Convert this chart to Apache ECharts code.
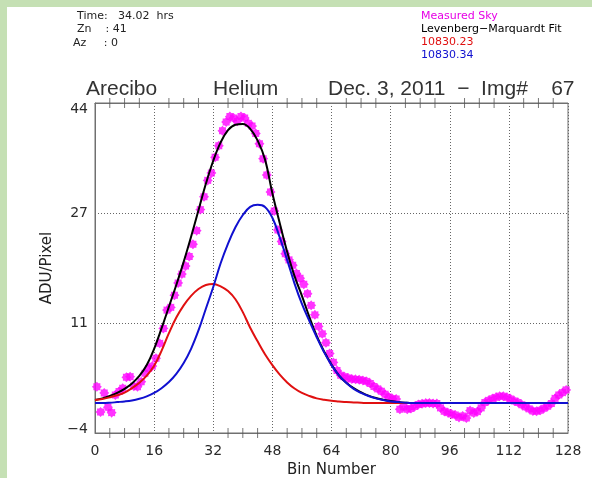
<!DOCTYPE html>
<html><head><meta charset="utf-8">
<script src="https://cdn.jsdelivr.net/npm/echarts/dist/echarts.min.js"></script>
<style>
html,body{margin:0;padding:0;width:592px;height:478px;overflow:hidden;background:#c5e0b4;}
#panel{position:absolute;left:7px;top:7px;width:585px;height:471px;background:#fff;}
#chart{position:absolute;left:0;top:0;width:592px;height:478px;}
</style></head><body>
<div id="panel"></div><div id="chart"></div>
<script>
// ---- data ----
const infoLines = ['Time:   34.02  hrs', 'Zn    : 41', 'Az     : 0'];
const legendLabels = ['Measured Sky', 'Levenberg\u2212Marquardt Fit', '10830.23', '10830.34'];
const legendColors = ['#e600e6', '#000000', '#e01010', '#1010d0'];
const titleParts = ['Arecibo', 'Helium', 'Dec. 3, 2011  \u2212  Img#    67'];
const yTickLabels = ['\u22124', '11', '27', '44'];
const minorTickBins = [4, 8, 12, 20, 24, 28, 36, 40, 44, 52, 56, 60, 68, 72, 76, 84, 88, 92, 100, 104, 108, 116, 120, 124];
const yMin = -4.5, yMax = 44.1;
const xName = 'Bin Number';
const yName = 'ADU/Pixel';

// measured sky, one value per bin (bin centre)
const skyValues = [2.3, -1.4, 1.4, -0.7, -1.5, 1.1, 1.6, 2.1, 3.7, 3.8,
 2.4, 2.3, 3.05, 4.3, 5.0, 5.35, 6.5, 8.7, 10.9, 13.6,
 14.0, 15.8, 17.6, 18.9, 20.1, 21.5, 23.3, 25.3, 28.4, 30.3,
 32.7, 33.8, 36.1, 37.8, 40.0, 41.3, 42.1, 41.9, 41.4, 42.1,
 41.9, 41.1, 40.7, 39.6, 38.1, 35.9, 33.5, 31.0, 28.2, 25.4,
 23.7, 21.9, 21.0, 20.2, 19.0, 18.3, 17.4, 16.0, 14.3, 12.9,
 11.2, 10.1, 8.8, 7.2, 5.9, 4.7, 4.0, 3.8, 3.6, 3.45,
 3.4, 3.35, 3.25, 3.1, 2.8, 2.35, 2.0, 1.65, 1.2, 0.8,
 0.55, 0.5, -1.0, -0.65, -1.0, -0.9, -0.6, -0.3, -0.2, -0.1,
 -0.07, -0.15, -0.15, -0.8, -1.3, -1.5, -1.7, -1.85, -2.2, -2.0,
 -2.3, -1.2, -1.55, -1.35, -0.8, 0.0, 0.3, 0.55, 0.75, 0.93,
 0.9, 0.75, 0.5, 0.2, 0.0, -0.35, -0.65, -0.95, -1.25, -1.3,
 -1.15, -0.85, -0.55, -0.15, 0.6, 1.1, 1.45, 1.85];

const fitBins = [0,2,4,6,8,10,12,14,16,18,20,22,24,26,28,30,32,34,36,38,40,42,44,46,48,50,
 52,54,56,58,60,62,64,66,68,70,72,74,76,78,80,82,84,86,88,90,92,94,96,98,100,102,104,106,108,
 110,112,114,116,118,120,122,124,126,128];
const fitValues = [0.35,0.6,0.95,1.4,2.0,2.8,3.9,5.5,7.9,10.9,14.1,17.3,20.7,24.4,28.3,32.2,35.6,38.3,40.1,40.9,41.0,40.3,38.6,35.8,30.8,26.4,
 22.2,18.6,15.7,12.6,9.8,7.5,5.6,4.0,2.9,2.1,1.5,1.0,0.65,0.4,0.2,0.05,-0.05,-0.1,-0.1,-0.1,-0.1,-0.1,-0.1,-0.1,-0.1,-0.1,-0.1,-0.1,-0.1,
 -0.1,-0.1,-0.1,-0.1,-0.1,-0.1,-0.1,-0.1,-0.1,-0.1];
const redValues = [0.35,0.5,0.75,1.05,1.45,2.1,2.9,3.95,5.4,7.6,10.2,12.5,14.3,15.7,16.7,17.3,17.45,17.1,16.4,15.2,13.3,11.0,9.0,7.1,5.5,4.1,
 2.95,2.05,1.4,0.95,0.6,0.4,0.25,0.15,0.05,0.0,-0.05,-0.1,-0.1,-0.1,-0.1,-0.1,-0.1,-0.1,-0.1,-0.1,-0.1,-0.1,-0.1,-0.1,-0.1,-0.1,-0.1,-0.1,-0.1,
 -0.1,-0.1,-0.1,-0.1,-0.1,-0.1,-0.1,-0.1,-0.1,-0.1];
const blueValues = [-0.1,-0.1,-0.05,0.05,0.15,0.3,0.55,0.9,1.4,2.1,3.0,4.2,5.8,7.9,10.6,13.8,17.0,20.5,23.4,25.8,27.6,28.8,29.1,28.8,27.2,24.3,
 21.0,17.5,14.5,12.0,9.6,7.4,5.5,4.0,2.9,2.0,1.4,0.95,0.6,0.35,0.15,0.05,-0.05,-0.1,-0.1,-0.1,-0.1,-0.1,-0.1,-0.1,-0.1,-0.1,-0.1,-0.1,-0.1,
 -0.1,-0.1,-0.1,-0.1,-0.1,-0.1,-0.1,-0.1,-0.1,-0.1];

// ---- chart ----
const chart = echarts.init(document.getElementById('chart'), null, {renderer: 'canvas'});
const starPath = 'path://M20 10 L16.93 12.87 L17.07 17.07 L12.87 16.93 L10 20 L7.13 16.93 L2.93 17.07 L3.07 12.87 L0 10 L3.07 7.13 L2.93 2.93 L7.13 3.07 L10 0 L12.87 3.07 L17.07 2.93 L16.93 7.13 Z';
const axisGray = '#707070';
const tickGray = '#555';
const labelFont = 'DejaVu Sans';

const skyData = skyValues.map((v, i) => [i + 0.5, v]);
const pair = vals => fitBins.map((b, i) => [b, vals[i]]);
// minor ticks: thin rect symbols centred on the bottom and top edges, clipped by the grid
const tickData = minorTickBins.map(b => [b, yMin]).concat(minorTickBins.map(b => [b, yMax]));

const graphics = [];
const infoX = [77, 77, 73];
infoLines.forEach((t, i) => graphics.push({type: 'text', silent: true,
  style: {x: infoX[i], y: 16 + i * 13.5, text: t, font: '11px "DejaVu Sans"', fill: '#222', verticalAlign: 'middle'}}));
legendLabels.forEach((t, i) => graphics.push({type: 'text', silent: true,
  style: {x: 421, y: 16 + i * 13.2, text: t, font: '11px "DejaVu Sans"', fill: legendColors[i], verticalAlign: 'middle'}}));
const titleX = [86, 213, 328];
titleParts.forEach((t, i) => graphics.push({type: 'text', silent: true,
  style: {x: titleX[i], y: 89, text: t, font: '21px "Liberation Sans"', fill: '#333', verticalAlign: 'middle'}}));

chart.setOption({
  animation: false,
  backgroundColor: 'transparent',
  graphic: graphics,
  grid: {left: 95, top: 103, width: 473, height: 330, show: true, borderColor: axisGray, borderWidth: 1,
    backgroundColor: 'transparent', containLabel: false, outerBoundsMode: 'none'},
  xAxis: [{
    type: 'value', position: 'bottom', min: 0, max: 128, interval: 16,
    name: xName, nameLocation: 'middle', nameGap: 28,
    nameTextStyle: {fontFamily: labelFont, fontSize: 15, color: '#222'},
    axisLine: {show: true, onZero: false, lineStyle: {color: axisGray, width: 1}},
    axisTick: {show: false},
    splitLine: {show: true, lineStyle: {type: [1, 2], color: '#666'}},
    axisLabel: {margin: 11, fontFamily: labelFont, fontSize: 14, color: '#2a2a2a'}
  }, {
    type: 'value', position: 'top', min: 0, max: 128, interval: 16,
    axisLine: {show: true, onZero: false, lineStyle: {color: axisGray, width: 1}},
    axisTick: {show: false}, splitLine: {show: false}, axisLabel: {show: false}
  }],
  yAxis: [{
    type: 'value', min: yMin, max: yMax, show: false
  }, {
    type: 'value', position: 'left', min: 0, max: 3, interval: 1,
    name: yName, nameLocation: 'middle', nameGap: 40,
    nameTextStyle: {fontFamily: labelFont, fontSize: 15, color: '#222'},
    axisLine: {show: true, onZero: false, lineStyle: {color: axisGray, width: 1}},
    axisTick: {show: false},
    splitLine: {show: true, lineStyle: {type: [1, 2], color: '#666'}},
    axisLabel: {margin: 7, fontFamily: labelFont, fontSize: 14, color: '#2a2a2a',
      formatter: (v, idx) => idx === 0 ? '{lo|' + yTickLabels[idx] + '}'
        : idx === yTickLabels.length - 1 ? '{hi|' + yTickLabels[idx] + '}' : yTickLabels[idx],
      rich: {
        lo: {fontFamily: labelFont, fontSize: 14, color: '#2a2a2a', padding: [0, 0, 8, 0]},
        hi: {fontFamily: labelFont, fontSize: 14, color: '#2a2a2a', padding: [13, 0, 0, 0]}
      }}
  }],
  series: [{
    name: 'minor ticks', type: 'scatter', xAxisIndex: 0, yAxisIndex: 0, silent: true,
    clip: true, data: tickData, symbol: 'rect', symbolSize: [1, 10],
    itemStyle: {color: tickGray}, z: 6
  }, {
    name: legendLabels[0], type: 'scatter', xAxisIndex: 0, yAxisIndex: 0,
    data: skyData, symbol: starPath, symbolSize: 10,
    itemStyle: {color: '#ff00ff'}, z: 2
  }, {
    name: legendLabels[1], type: 'line', xAxisIndex: 0, yAxisIndex: 0,
    data: pair(fitValues), smooth: 0.4, showSymbol: false,
    lineStyle: {color: '#000', width: 2}, z: 3
  }, {
    name: legendLabels[2], type: 'line', xAxisIndex: 0, yAxisIndex: 0,
    data: pair(redValues), smooth: 0.4, showSymbol: false,
    lineStyle: {color: '#e01010', width: 2}, z: 4
  }, {
    name: legendLabels[3], type: 'line', xAxisIndex: 0, yAxisIndex: 0,
    data: pair(blueValues), smooth: 0.4, showSymbol: false,
    lineStyle: {color: '#1010d0', width: 2}, z: 5
  }]
});
</script>
</body></html>
